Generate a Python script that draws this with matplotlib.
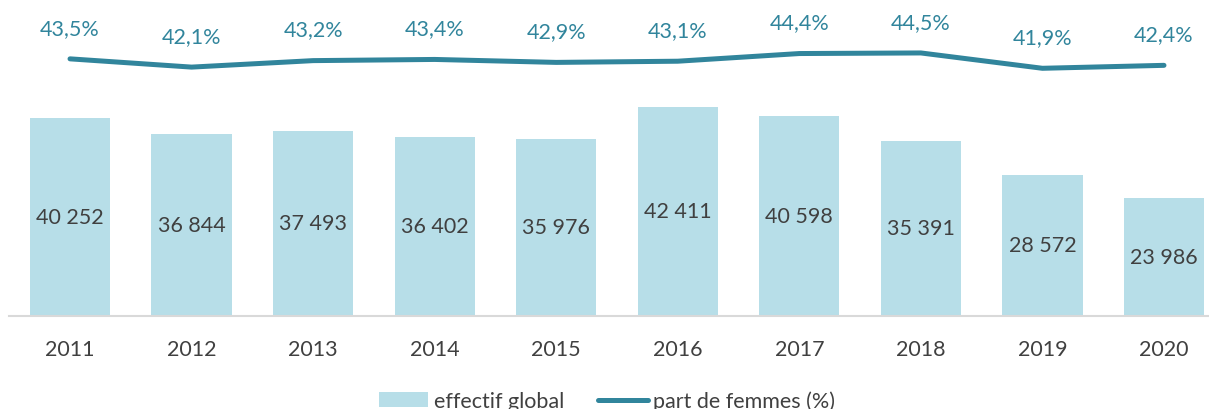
import matplotlib.pyplot as plt
from matplotlib.patches import Patch
from matplotlib.lines import Line2D

plt.rcParams['font.family'] = ['Lato', 'DejaVu Sans']

years = ['2011', '2012', '2013', '2014', '2015', '2016', '2017', '2018', '2019', '2020']
effectif = [40252, 36844, 37493, 36402, 35976, 42411, 40598, 35391, 28572, 23986]
part_femmes = [43.5, 42.1, 43.2, 43.4, 42.9, 43.1, 44.4, 44.5, 41.9, 42.4]

bar_color = '#B7DEE8'
line_color = '#31859C'
text_color = '#404040'

fig = plt.figure(figsize=(12.09, 4.10), dpi=100)
# plot area: x from 9.25px to 1224.75px (runs past the right edge), y from ~21px to 316.5px
ax = fig.add_axes([9.25 / 1209, (410 - 316.5) / 410, 1215.5 / 1209, 295 / 410])
x = range(len(years))
bars = ax.bar(x, effectif, width=0.66, color=bar_color, zorder=2)
ax.set_xlim(-0.5, len(years) - 0.5)
ax.set_ylim(0, 60000)

for i, v in enumerate(effectif):
    ax.text(i, v / 2, f'{v:,}'.replace(',', ' '), ha='center', va='center',
            fontsize=15.5, color=text_color, zorder=3)

for side in ['top', 'right', 'left']:
    ax.spines[side].set_visible(False)
ax.spines['bottom'].set_color('#D9D9D9')
ax.spines['bottom'].set_linewidth(1.5)
ax.set_yticks([])
ax.set_xticks(list(x))
ax.set_xticklabels(years, fontsize=15.5, color=text_color)
ax.tick_params(axis='x', length=0, pad=17)

ax2 = ax.twinx()
ax2.set_ylim(0, 50)
ax2.plot(list(x), part_femmes, color=line_color, linewidth=3.6,
         solid_capstyle='round', solid_joinstyle='round', zorder=4)
for i, p in enumerate(part_femmes):
    ax2.annotate(f'{p:.1f}%'.replace('.', ','), (i, p), xytext=(0, 22.5),
                 textcoords='offset points', ha='center', va='center',
                 fontsize=15.5, color=line_color)
ax2.set_yticks([])
for side in ['top', 'right', 'left', 'bottom']:
    ax2.spines[side].set_visible(False)

handles = [Patch(facecolor=bar_color, edgecolor='none'),
           Line2D([0], [0], color=line_color, linewidth=3.6, solid_capstyle='round')]
leg = fig.legend(handles, ['effectif global', 'part de femmes (%)'],
                 loc='center', bbox_to_anchor=(607 / 1209, 8 / 410), ncol=2,
                 frameon=False, fontsize=15.5, handlelength=2.3, handleheight=0.67,
                 handletextpad=0.25, columnspacing=1.6)
for t in leg.get_texts():
    t.set_color(text_color)

fig.savefig('out.png', dpi=100)
